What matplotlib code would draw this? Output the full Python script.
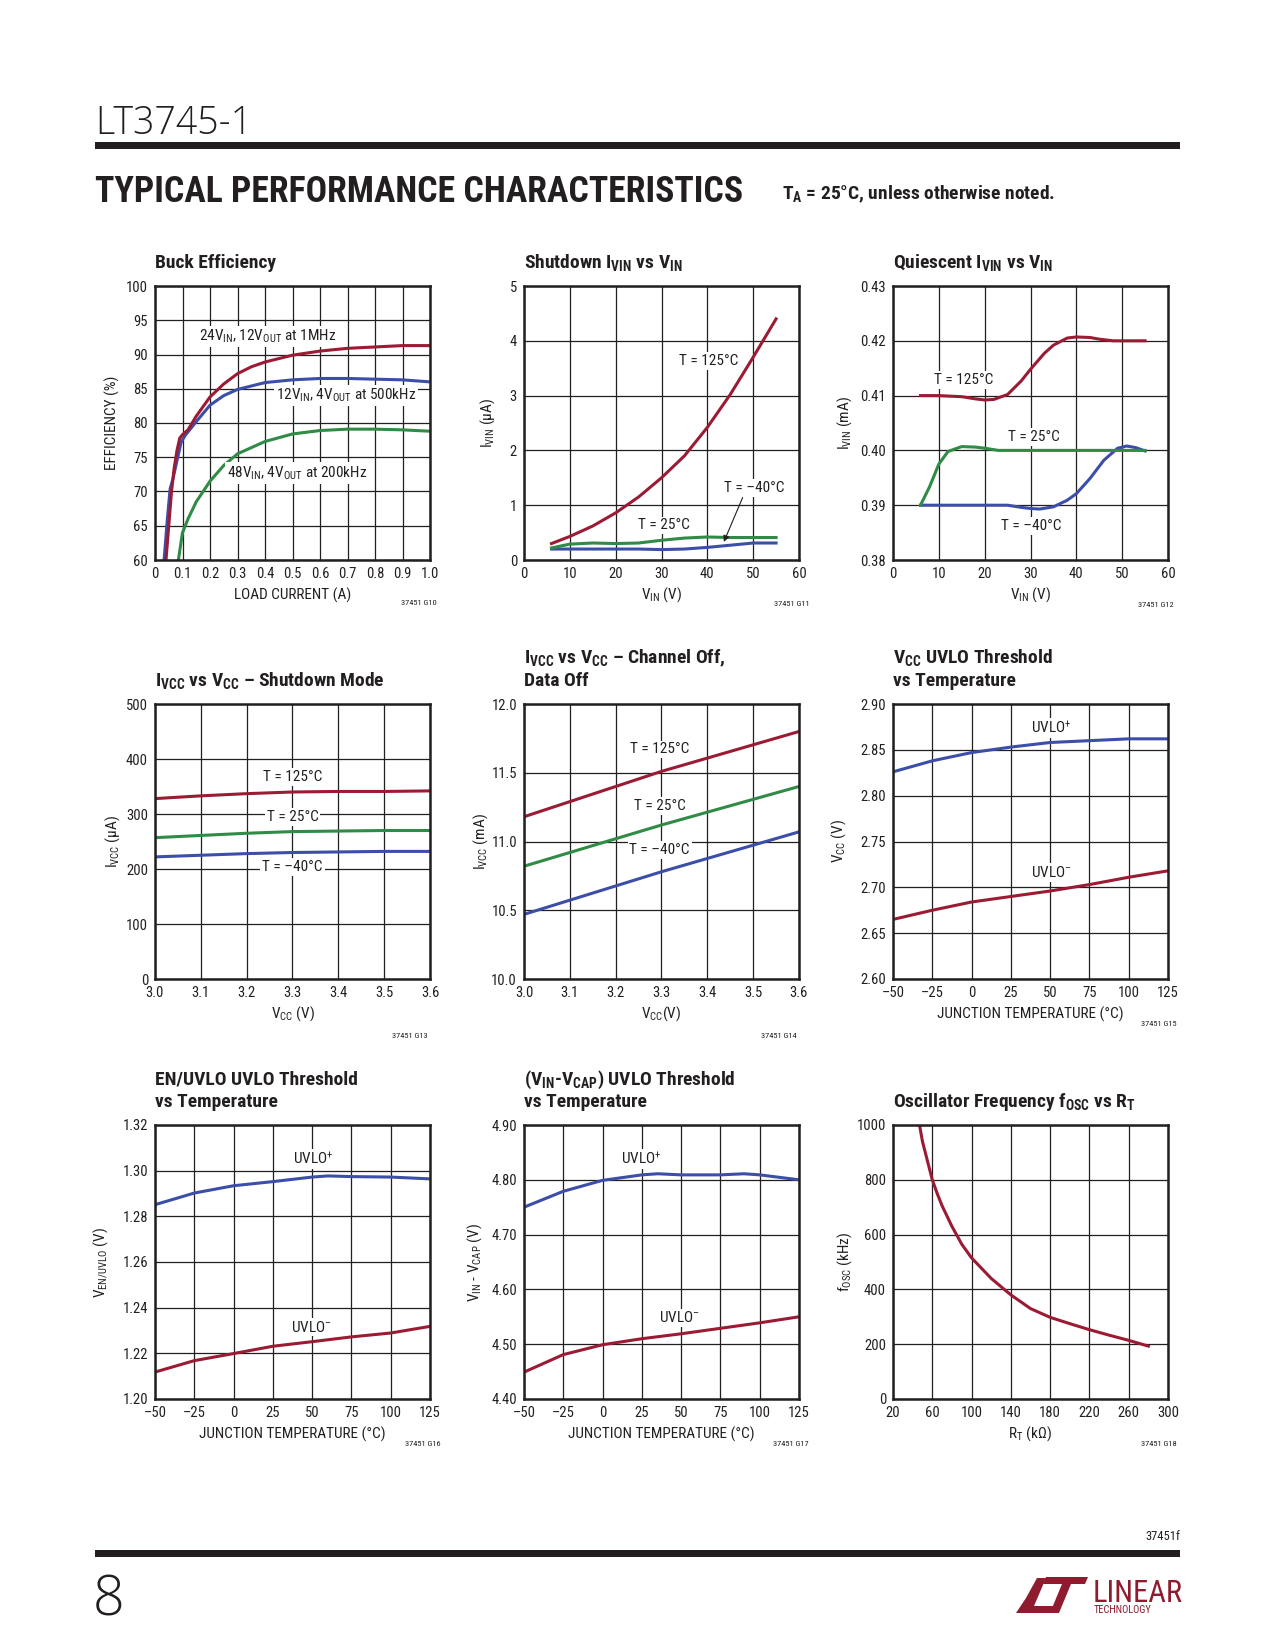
import matplotlib
matplotlib.use('Agg')
import matplotlib.pyplot as plt
from matplotlib import font_manager as fm
from matplotlib.patches import Polygon, Rectangle

# ---------------- data ----------------
# Buck efficiency
eff_x_24 = [0.04, 0.05, 0.06, 0.07, 0.08, 0.09, 0.10, 0.12, 0.15, 0.20, 0.25, 0.30, 0.35, 0.40, 0.50, 0.60, 0.70, 0.80, 0.90, 1.00]
eff_y_24 = [60, 65, 70, 73.5, 76, 77.8, 78.3, 79.0, 81.0, 83.8, 85.7, 87.2, 88.2, 88.9, 89.9, 90.5, 90.9, 91.1, 91.3, 91.3]
eff_x_12 = [0.033, 0.045, 0.055, 0.065, 0.08, 0.095, 0.11, 0.13, 0.15, 0.20, 0.25, 0.30, 0.40, 0.50, 0.60, 0.70, 0.80, 0.90, 1.00]
eff_y_12 = [60, 66, 70.4, 71.8, 74.5, 77.2, 78.2, 79.2, 80.2, 82.6, 84.0, 84.9, 85.9, 86.3, 86.5, 86.5, 86.4, 86.3, 86.0]
eff_x_48 = [0.085, 0.10, 0.12, 0.15, 0.20, 0.25, 0.30, 0.40, 0.50, 0.60, 0.70, 0.80, 0.90, 1.00]
eff_y_48 = [60, 64, 66, 68.5, 71.5, 73.8, 75.5, 77.3, 78.4, 78.9, 79.1, 79.1, 79.0, 78.8]

# Shutdown I_VIN vs V_IN
sd_v = [6, 10, 15, 20, 25, 30, 35, 40, 45, 50, 55]
sd_125 = [0.30, 0.43, 0.62, 0.86, 1.15, 1.50, 1.90, 2.42, 3.02, 3.70, 4.40]
sd_25 = [0.22, 0.29, 0.31, 0.30, 0.31, 0.36, 0.40, 0.42, 0.41, 0.41, 0.41]
sd_m40 = [0.20, 0.20, 0.20, 0.20, 0.20, 0.19, 0.20, 0.23, 0.27, 0.31, 0.31]

# Quiescent I_VIN vs V_IN
q_v_125 = [6, 10, 15, 18, 20, 22, 25, 28, 30, 33, 35, 38, 40, 43, 45, 48, 50, 55]
q_125 = [0.4100, 0.4100, 0.4098, 0.4094, 0.4092, 0.4093, 0.4102, 0.4127, 0.4148, 0.4177,
         0.4192, 0.4205, 0.4207, 0.4206, 0.4203, 0.4200, 0.4200, 0.4200]
q_v_25 = [6, 8, 10, 12, 15, 18, 20, 23, 25, 55]
q_25 = [0.3900, 0.3934, 0.3975, 0.3998, 0.4007, 0.4006, 0.4004, 0.4000, 0.4000, 0.4000]
q_v_m40 = [6, 25, 28, 30, 32, 35, 38, 40, 43, 46, 49, 51, 53, 55]
q_m40 = [0.3900, 0.3900, 0.3896, 0.3894, 0.3893, 0.3897, 0.3909, 0.3921, 0.3949, 0.3982,
         0.4004, 0.4008, 0.4005, 0.3999]

# I_VCC vs V_CC shutdown
ivcc_v = [3.0, 3.1, 3.2, 3.3, 3.4, 3.5, 3.6]
ivcc_125 = [328, 333, 337, 340, 341, 341, 342]
ivcc_25 = [257, 261, 265, 268, 269, 270, 270]
ivcc_m40 = [222, 225, 228, 230, 231, 232, 232]

# I_VCC vs V_CC channel off
ch_v = [3.0, 3.3, 3.6]
ch_125 = [11.18, 11.51, 11.80]
ch_25 = [10.82, 11.12, 11.40]
ch_m40 = [10.47, 10.78, 11.07]

# V_CC UVLO
temp = [-50, -25, 0, 25, 50, 75, 100, 125]
vcc_up = [2.826, 2.838, 2.847, 2.853, 2.858, 2.860, 2.862, 2.862]
vcc_dn = [2.665, 2.675, 2.684, 2.690, 2.696, 2.703, 2.711, 2.718]

# EN/UVLO
en_t_up = [-50, -25, 0, 25, 50, 60, 75, 100, 125]
en_up = [1.2851, 1.2902, 1.2934, 1.2952, 1.2972, 1.2977, 1.2974, 1.2972, 1.2964]
en_dn = [1.2118, 1.2168, 1.2199, 1.2231, 1.2251, 1.2272, 1.2289, 1.2318]

# (VIN - VCAP) UVLO
cap_t_up = [-50, -25, 0, 25, 35, 50, 75, 90, 100, 125]
cap_up = [4.750, 4.779, 4.799, 4.809, 4.811, 4.809, 4.809, 4.811, 4.809, 4.800]
cap_dn = [4.449, 4.481, 4.499, 4.510, 4.519, 4.529, 4.539, 4.550]

# Oscillator frequency
rt = [47, 50, 55, 60, 65, 70, 80, 90, 100, 120, 140, 160, 180, 200, 220, 240, 260, 280]
fosc = [1000, 940, 870, 800, 750, 705, 630, 565, 515, 440, 380, 330, 298, 275, 253, 233, 214, 193]

temp_ticks = [-50, -25, 0, 25, 50, 75, 100, 125]
temp_labels = ['\u201350', '\u201325', '0', '25', '50', '75', '100', '125']

# ---------------- fonts ----------------
avail = {f.name for f in fm.fontManager.ttflist}


def pick(*names):
    for n in names:
        if n in avail:
            return n
    return 'DejaVu Sans'


NARROW = pick('Liberation Sans Narrow', 'Roboto Condensed', 'Open Sans Condensed', 'Liberation Sans')
LIGHT = pick('Open Sans', 'Roboto', 'Lato', 'Liberation Sans')

plt.rcParams['font.family'] = [NARROW, 'DejaVu Sans']
plt.rcParams['mathtext.fontset'] = 'custom'
plt.rcParams['mathtext.rm'] = NARROW
plt.rcParams['mathtext.it'] = NARROW
plt.rcParams['mathtext.bf'] = NARROW

INK = '#231f20'
RED = '#9b1b34'
BLUE = '#3c4ea8'
GREEN = '#2f8b45'
LW = 2.2
TICK_FS = 10.5
LABEL_FS = 11
ANN_FS = 11
TITLE_FS = 14

W, H = 1275, 1650
fig = plt.figure(figsize=(W / 100, H / 100), dpi=100)
fig.patch.set_facecolor('white')

pg = fig.add_axes([0, 0, 1, 1])
pg.set_xlim(0, W)
pg.set_ylim(H, 0)
pg.axis('off')


def rect(x0, x1, y0, y1):
    return [x0 / W, 1 - y1 / H, (x1 - x0) / W, (y1 - y0) / H]


COLS = [(155, 430), (524, 799), (893, 1168)]
ROWS = [(286, 560), (704, 979), (1125, 1399)]


def sub(s):
    return r'$_{\mathregular{' + s + '}}$'


def panel(c, r, xlim, ylim, xticks, xtl, yticks, ytl, title_lines, xlabel, ylabel, ydx, code, code_xy):
    x0, x1 = COLS[c]
    y0, y1 = ROWS[r]
    ax = fig.add_axes(rect(x0, x1, y0, y1))
    ax.set_xlim(xlim)
    ax.set_ylim(ylim)
    ax.set_xticks(xticks)
    ax.set_xticklabels(xtl)
    ax.set_yticks(yticks)
    ax.set_yticklabels(ytl)
    ax.tick_params(length=0, labelsize=TICK_FS, colors=INK, pad=5)
    ax.grid(True, color=INK, lw=0.9)
    ax.set_axisbelow(True)
    for s in ax.spines.values():
        s.set_linewidth(1.8)
        s.set_color(INK)
    n = len(title_lines)
    for i, t in enumerate(title_lines):
        yb = y0 - 18 - (n - 1 - i) * 22.5
        pg.text(x0, yb, t, ha='left', va='baseline', fontsize=TITLE_FS, fontweight='bold', color=INK)
    pg.text((x0 + x1) / 2, y1 + 35, xlabel, ha='center', va='center', fontsize=LABEL_FS, color=INK)
    pg.text(x0 - ydx, (y0 + y1) / 2, ylabel, rotation=90, ha='center', va='center', fontsize=LABEL_FS, color=INK)
    pg.text(code_xy[0], code_xy[1], code, ha='right', va='center', fontsize=6, color=INK)
    return ax


BOX = dict(boxstyle='square,pad=0.12', fc='white', ec='none')


def lab(ax, x, y, s, ha='center'):
    ax.text(x, y, s, ha=ha, va='center', fontsize=ANN_FS, color=INK, bbox=BOX, zorder=5)


UP = r'UVLO$^{\mathregular{+}}$'
DN = 'UVLO$^{\\mathregular{\u2013}}$'

# ---- 1: Buck Efficiency
ax = panel(0, 0, (0, 1.0), (60, 100),
           [0, .1, .2, .3, .4, .5, .6, .7, .8, .9, 1.0],
           ['0', '0.1', '0.2', '0.3', '0.4', '0.5', '0.6', '0.7', '0.8', '0.9', '1.0'],
           [60, 65, 70, 75, 80, 85, 90, 95, 100], ['60', '65', '70', '75', '80', '85', '90', '95', '100'],
           ['Buck Efficiency'], 'LOAD CURRENT (A)', 'EFFICIENCY (%)', 43, '37451 G10', (437, 603))
ax.plot(eff_x_48, eff_y_48, color=GREEN, lw=LW)
ax.plot(eff_x_12, eff_y_12, color=BLUE, lw=LW)
ax.plot(eff_x_24, eff_y_24, color=RED, lw=LW)
lab(ax, 0.16, 92.6, '24V' + sub('IN') + ', 12V' + sub('OUT') + ' at 1MHz', ha='left')
lab(ax, 0.44, 84.0, '12V' + sub('IN') + ', 4V' + sub('OUT') + ' at 500kHz', ha='left')
lab(ax, 0.263, 72.7, '48V' + sub('IN') + ', 4V' + sub('OUT') + ' at 200kHz', ha='left')

# ---- 2: Shutdown I_VIN vs V_IN
ax = panel(1, 0, (0, 60), (0, 5), [0, 10, 20, 30, 40, 50, 60], ['0', '10', '20', '30', '40', '50', '60'],
           [0, 1, 2, 3, 4, 5], ['0', '1', '2', '3', '4', '5'],
           ['Shutdown I' + sub('VIN') + ' vs V' + sub('IN')], 'V' + sub('IN') + ' (V)',
           'I' + sub('VIN') + ' (\u00b5A)', 36, '37451 G11', (810, 604))
ax.plot(sd_v, sd_m40, color=BLUE, lw=LW)
ax.plot(sd_v, sd_25, color=GREEN, lw=LW)
ax.plot(sd_v, sd_125, color=RED, lw=LW)
lab(ax, 40.2, 3.63, 'T = 125\u00b0C')
lab(ax, 30.5, 0.63, 'T = 25\u00b0C')
lab(ax, 50.3, 1.31, 'T = \u201340\u00b0C')
ax.annotate('', xy=(43.6, 0.33), xytext=(47.7, 1.14),
            arrowprops=dict(arrowstyle='-|>', color=INK, lw=0.8, mutation_scale=9, shrinkA=0, shrinkB=0))

# ---- 3: Quiescent I_VIN vs V_IN
ax = panel(2, 0, (0, 60), (0.38, 0.43), [0, 10, 20, 30, 40, 50, 60], ['0', '10', '20', '30', '40', '50', '60'],
           [0.38, 0.39, 0.40, 0.41, 0.42, 0.43], ['0.38', '0.39', '0.40', '0.41', '0.42', '0.43'],
           ['Quiescent I' + sub('VIN') + ' vs V' + sub('IN')], 'V' + sub('IN') + ' (V)',
           'I' + sub('VIN') + ' (mA)', 48, '37451 G12', (1174, 605))
ax.plot(q_v_m40, q_m40, color=BLUE, lw=LW)
ax.plot(q_v_25, q_25, color=GREEN, lw=LW)
ax.plot(q_v_125, q_125, color=RED, lw=LW)
lab(ax, 15.4, 0.4128, 'T = 125\u00b0C')
lab(ax, 30.8, 0.4025, 'T = 25\u00b0C')
lab(ax, 30.1, 0.3862, 'T = \u201340\u00b0C')

# ---- 4: I_VCC vs V_CC shutdown
vx = [3.0, 3.1, 3.2, 3.3, 3.4, 3.5, 3.6]
vxl = ['3.0', '3.1', '3.2', '3.3', '3.4', '3.5', '3.6']
ax = panel(0, 1, (3.0, 3.6), (0, 500), vx, vxl,
           [0, 100, 200, 300, 400, 500], ['0', '100', '200', '300', '400', '500'],
           ['I' + sub('VCC') + ' vs V' + sub('CC') + ' \u2013 Shutdown Mode'], 'V' + sub('CC') + ' (V)',
           'I' + sub('VCC') + ' (\u00b5A)', 42, '37451 G13', (428, 1036))
ax.plot(ivcc_v, ivcc_m40, color=BLUE, lw=LW)
ax.plot(ivcc_v, ivcc_25, color=GREEN, lw=LW)
ax.plot(ivcc_v, ivcc_125, color=RED, lw=LW)
lab(ax, 3.3, 367, 'T = 125\u00b0C')
lab(ax, 3.3, 294, 'T = 25\u00b0C')
lab(ax, 3.3, 204, 'T = \u201340\u00b0C')

# ---- 5: I_VCC vs V_CC channel off
ax = panel(1, 1, (3.0, 3.6), (10.0, 12.0), vx, vxl,
           [10.0, 10.5, 11.0, 11.5, 12.0], ['10.0', '10.5', '11.0', '11.5', '12.0'],
           ['I' + sub('VCC') + ' vs V' + sub('CC') + ' \u2013 Channel Off,', 'Data Off'],
           'V' + sub('CC') + '(V)', 'I' + sub('VCC') + ' (mA)', 43, '37451 G14', (797, 1036))
ax.plot(ch_v, ch_m40, color=BLUE, lw=LW)
ax.plot(ch_v, ch_25, color=GREEN, lw=LW)
ax.plot(ch_v, ch_125, color=RED, lw=LW)
lab(ax, 3.296, 11.67, 'T = 125\u00b0C')
lab(ax, 3.296, 11.26, 'T = 25\u00b0C')
lab(ax, 3.296, 10.94, 'T = \u201340\u00b0C')

# ---- 6: V_CC UVLO
ax = panel(2, 1, (-50, 125), (2.60, 2.90), temp_ticks, temp_labels,
           [2.60, 2.65, 2.70, 2.75, 2.80, 2.85, 2.90], ['2.60', '2.65', '2.70', '2.75', '2.80', '2.85', '2.90'],
           ['V' + sub('CC') + ' UVLO Threshold', 'vs Temperature'], 'JUNCTION TEMPERATURE (\u00b0C)',
           'V' + sub('CC') + ' (V)', 54, '37451 G15', (1177, 1024))
ax.plot(temp, vcc_up, color=BLUE, lw=LW)
ax.plot(temp, vcc_dn, color=RED, lw=LW)
lab(ax, 50.8, 2.874, UP)
lab(ax, 50.8, 2.716, DN)

# ---- 7: EN/UVLO
ax = panel(0, 2, (-50, 125), (1.20, 1.32), temp_ticks, temp_labels,
           [1.20, 1.22, 1.24, 1.26, 1.28, 1.30, 1.32], ['1.20', '1.22', '1.24', '1.26', '1.28', '1.30', '1.32'],
           ['EN/UVLO UVLO Threshold', 'vs Temperature'], 'JUNCTION TEMPERATURE (\u00b0C)',
           'V' + sub('EN/UVLO') + ' (V)', 54, '37451 G16', (441, 1444))
ax.plot(en_t_up, en_up, color=BLUE, lw=LW)
ax.plot(temp, en_dn, color=RED, lw=LW)
lab(ax, 50.6, 1.3051, UP)
lab(ax, 49.5, 1.2315, DN)

# ---- 8: VIN - VCAP UVLO
ax = panel(1, 2, (-50, 125), (4.40, 4.90), temp_ticks, temp_labels,
           [4.40, 4.50, 4.60, 4.70, 4.80, 4.90], ['4.40', '4.50', '4.60', '4.70', '4.80', '4.90'],
           ['(V' + sub('IN') + '-V' + sub('CAP') + ') UVLO Threshold', 'vs Temperature'],
           'JUNCTION TEMPERATURE (\u00b0C)', 'V' + sub('IN') + ' - V' + sub('CAP') + ' (V)', 49,
           '37451 G17', (809, 1444))
ax.plot(cap_t_up, cap_up, color=BLUE, lw=LW)
ax.plot(temp, cap_dn, color=RED, lw=LW)
lab(ax, 24.7, 4.838, UP)
lab(ax, 49.2, 4.548, DN)

# ---- 9: Oscillator frequency
ax = panel(2, 2, (20, 300), (0, 1000), [20, 60, 100, 140, 180, 220, 260, 300],
           ['20', '60', '100', '140', '180', '220', '260', '300'],
           [0, 200, 400, 600, 800, 1000], ['0', '200', '400', '600', '800', '1000'],
           ['Oscillator Frequency f' + sub('OSC') + ' vs R' + sub('T')], 'R' + sub('T') + ' (k\u03a9)',
           'f' + sub('OSC') + ' (kHz)', 48, '37451 G18', (1177, 1444))
ax.plot(rt, fosc, color=RED, lw=LW)

# ---------------- page furniture ----------------
pg.text(95, 134, 'LT3745-1', ha='left', va='baseline', fontsize=27, color=INK,
        family=[LIGHT, 'DejaVu Sans'], fontweight='light')
pg.add_patch(Rectangle((95, 142), 1085, 6.5, color=INK, lw=0))
tt = pg.text(95, 202, 'TYPICAL PERFORMANCE CHARACTERISTICS', ha='left', va='baseline', fontsize=24,
             fontweight='heavy', color=INK)
fig.canvas.draw()
bb = tt.get_window_extent(fig.canvas.get_renderer())
tt.set_fontsize(24 * 649 / bb.width)
pg.text(782, 199, 'T' + sub('A') + ' = 25\u00b0C, unless otherwise noted.', ha='left', va='baseline',
        fontsize=14, fontweight='bold', color=INK)

pg.text(1180, 1537, '37451f', ha='right', va='center', fontsize=9, color=INK)
pg.add_patch(Rectangle((95, 1550), 1085, 7, color=INK, lw=0))
pg.text(93, 1615, '8', ha='left', va='baseline', fontsize=40, color=INK,
        family=[LIGHT, 'DejaVu Sans'], fontweight='light')

LOGO = '#8e1b2e'
pg.add_patch(Polygon([(1016, 1613), (1053, 1613), (1057, 1606), (1034, 1606), (1046, 1578),
                      (1037, 1578), (1026, 1598)], closed=True, color=LOGO, lw=0))
pg.add_patch(Polygon([(1046, 1577), (1088, 1577), (1085, 1584), (1043, 1584)], closed=True, color=LOGO, lw=0))
pg.add_patch(Polygon([(1062, 1584), (1071, 1584), (1059, 1613), (1050, 1613)], closed=True, color=LOGO, lw=0))
pg.text(1093, 1602, 'LINEAR', ha='left', va='baseline', fontsize=22, color=LOGO)
pg.text(1094, 1613, 'TECHNOLOGY', ha='left', va='baseline', fontsize=7.5, color=LOGO)

fig.savefig('out.png', dpi=100, facecolor='white')
